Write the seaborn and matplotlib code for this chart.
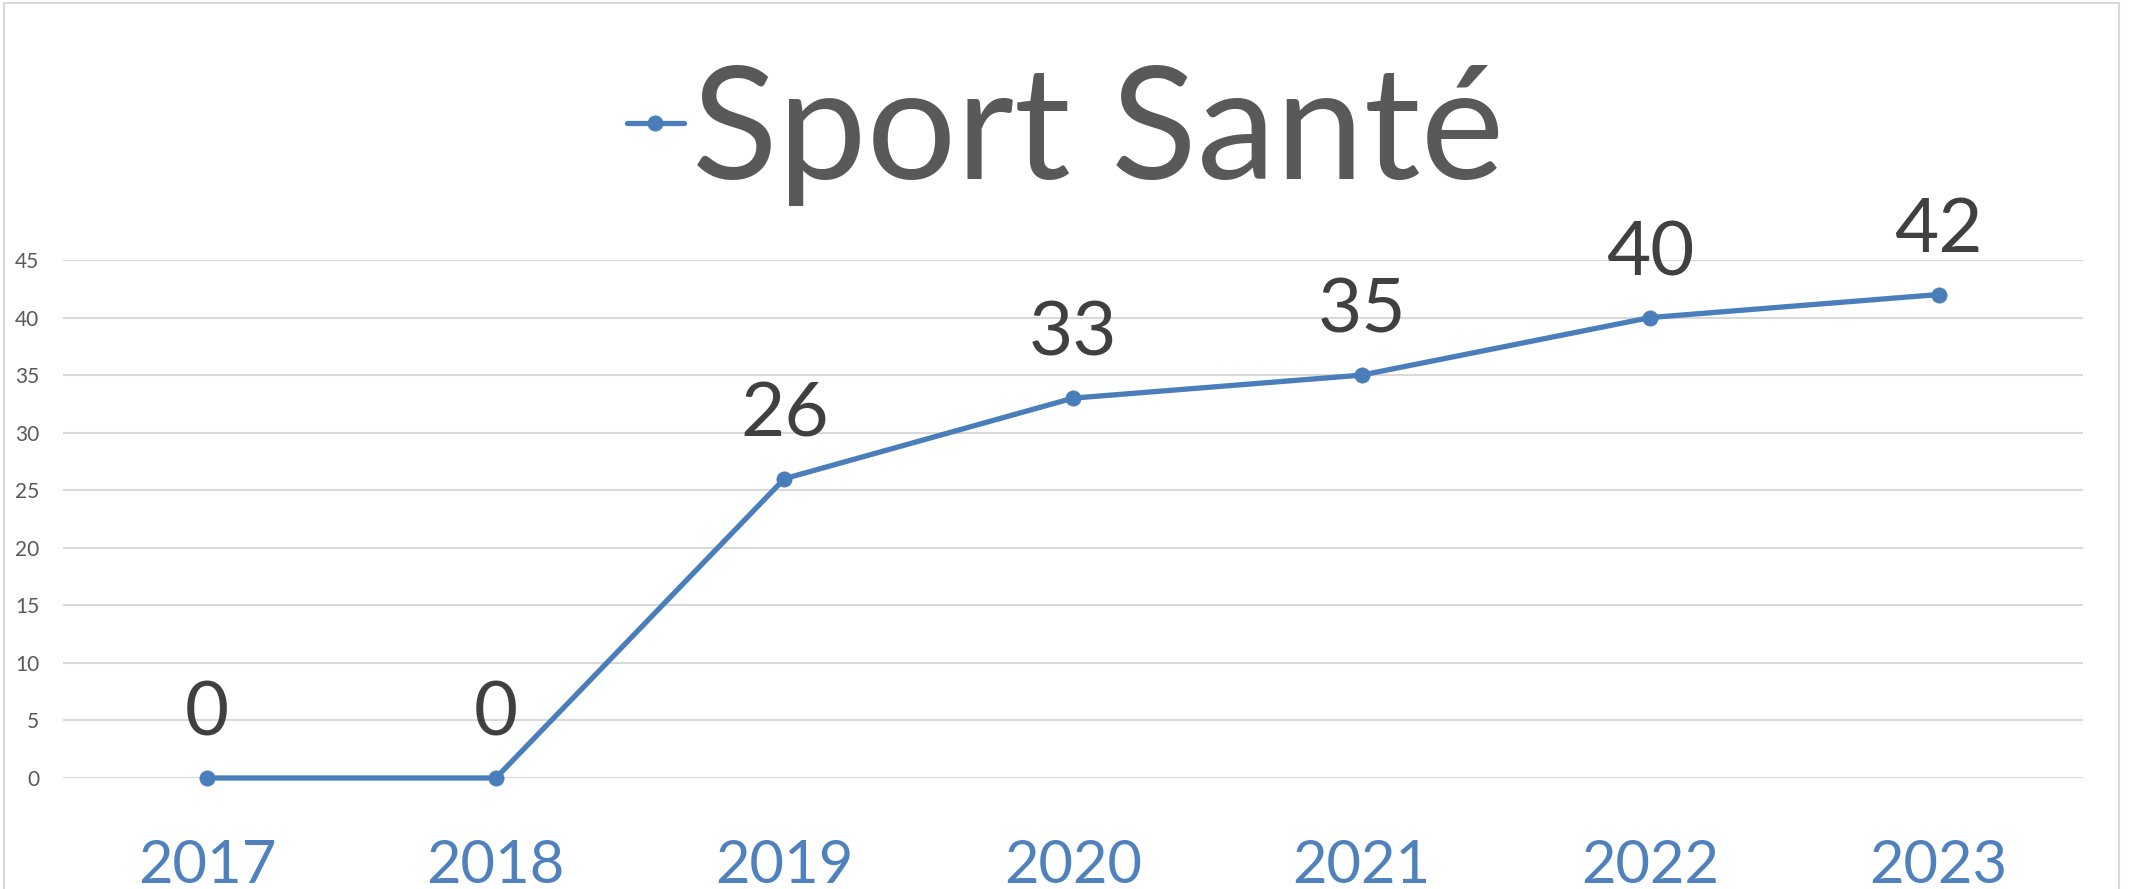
import matplotlib
matplotlib.use("Agg")
import matplotlib.pyplot as plt
import matplotlib.patches as mpatches
import seaborn as sns
import pandas as pd

years = ["2017", "2018", "2019", "2020", "2021", "2022", "2023"]
values = [0, 0, 26, 33, 35, 40, 42]
series_name = "Sport Santé"
y_ticks = [0, 5, 10, 15, 20, 25, 30, 35, 40, 45]

df = pd.DataFrame({"year": years, "value": values})
df["pos"] = range(len(years))

sns.set_theme(style="white")
plt.rcParams["font.family"] = ["Lato", "DejaVu Sans"]

W, H = 2131, 889
fig = plt.figure(figsize=(W / 100, H / 100), dpi=100)
fig.patch.set_facecolor("white")
ax = fig.add_axes([63 / W, 1 - 778 / H, (2083 - 63) / W, (778 - 260) / H])

line_color = "#4A7EBB"
sns.lineplot(data=df, x="pos", y="value", ax=ax, color=line_color, lw=3.8,
             marker="o", markersize=11, markeredgewidth=0.5,
             markeredgecolor=line_color, label=series_name, legend=False)
for ln in ax.lines:
    ln.set_clip_on(False)
    ln.set_zorder(3)

ax.set_xlim(-0.5, len(years) - 0.5)
ax.set_ylim(0, 45)
ax.set_yticks(y_ticks)
ax.set_yticklabels([str(t) for t in y_ticks], fontsize=15, color="#595959")
ax.set_xticks(range(len(years)))
ax.set_xticklabels(years, fontsize=43, color="#4F81BD")
ax.tick_params(axis="y", length=0, pad=17)
ax.tick_params(axis="x", length=0, pad=44)
ax.set_xlabel("")
ax.set_ylabel("")
ax.grid(axis="y", color="#D9D9D9", lw=1.5)
ax.grid(axis="x", visible=False)
ax.set_axisbelow(True)
for s in ax.spines.values():
    s.set_visible(False)

for x, v in zip(df["pos"], df["value"]):
    ax.annotate(str(v), (x, v), xytext=(0, 21), textcoords="offset points",
                ha="center", va="bottom", fontsize=55, color="#404040")

handles, labels = ax.get_legend_handles_labels()
leg = fig.legend(handles, labels, loc="center", bbox_to_anchor=(0.5, 1 - 134 / H),
                 frameon=False, fontsize=114, handlelength=0.36, handletextpad=0.05,
                 borderpad=0, borderaxespad=0)
for t in leg.get_texts():
    t.set_color("#595959")

border = mpatches.Rectangle((4 / W, -0.2), (2119 - 4) / W, 1.2 - 3 / H,
                            transform=fig.transFigure, fill=False,
                            edgecolor="#D9D9D9", lw=1.5)
fig.patches.append(border)

fig.savefig("out.png", dpi=100, facecolor="white")
